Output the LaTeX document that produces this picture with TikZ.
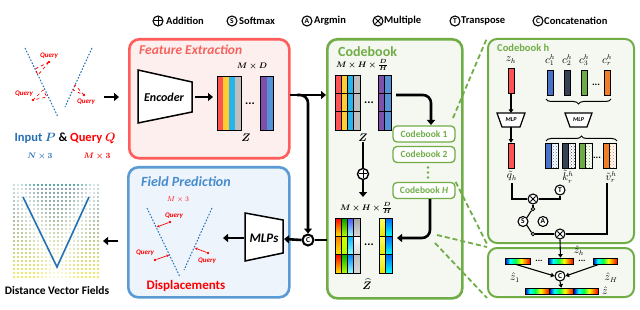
\documentclass[tikz,border=0pt]{standalone}
\usepackage{fontspec}
\setmainfont{Carlito}
\usepackage{amsmath,bm}
\usetikzlibrary{arrows.meta,patterns,calc,decorations.pathreplacing}
\definecolor{fered}{RGB}{255,92,92}
\definecolor{fefill}{RGB}{253,239,237}
\definecolor{fetitle}{RGB}{246,98,94}
\definecolor{cbgreen}{RGB}{112,173,71}
\definecolor{cbfill}{RGB}{245,248,241}
\definecolor{fpblue}{RGB}{91,155,213}
\definecolor{fpfill}{RGB}{238,244,251}
\definecolor{fptitle}{RGB}{70,140,205}
\definecolor{inblue}{RGB}{36,112,182}
\definecolor{qred}{RGB}{255,0,0}
\definecolor{zred}{RGB}{255,82,82}
\definecolor{zyel}{RGB}{255,205,50}
\definecolor{zcyan}{RGB}{40,180,235}
\definecolor{zgray}{RGB}{190,190,190}
\definecolor{zpurp}{RGB}{126,80,170}
\definecolor{zblue}{RGB}{85,145,215}
\definecolor{cdark}{RGB}{55,65,85}
\definecolor{cgreen}{RGB}{110,170,70}
\definecolor{corange}{RGB}{240,125,40}
\definecolor{cblue}{RGB}{70,115,200}
\pgfdeclarehorizontalshading{rainbow}{100bp}{color(0bp)=(blue!70!black); color(25bp)=(blue!70!black); color(35bp)=(cyan); color(46bp)=(green!70!cyan); color(57bp)=(yellow); color(66bp)=(orange); color(75bp)=(red); color(100bp)=(red)}
\tikzset{
  bigarr/.style={line width=2.6pt, -{Triangle[length=5pt,width=8pt]}},
  bigline/.style={line width=2.6pt},
  thinarr/.style={line width=1.1pt, -{Triangle[length=3.5pt,width=4.5pt]}},
  thinline/.style={line width=1.1pt},
  op/.style={circle, draw, line width=1.1pt, fill=white, inner sep=0pt, minimum size=10pt, font=\bfseries\fontsize{7.5}{7.5}\selectfont},
  opplus/.style={op, path picture={\draw[line width=1pt] ([yshift=3.6pt]path picture bounding box.center) -- ([yshift=-3.6pt]path picture bounding box.center) ([xshift=3.6pt]path picture bounding box.center) -- ([xshift=-3.6pt]path picture bounding box.center);}},
  optimes/.style={op, path picture={\draw[line width=1pt] ([shift={(2.6pt,2.6pt)}]path picture bounding box.center) -- ([shift={(-2.6pt,-2.6pt)}]path picture bounding box.center) ([shift={(-2.6pt,2.6pt)}]path picture bounding box.center) -- ([shift={(2.6pt,-2.6pt)}]path picture bounding box.center);}},
  bigop/.style={op, line width=2pt, minimum size=11pt},
  legtxt/.style={anchor=west, inner sep=0pt, font=\bfseries\fontsize{10.5}{11}\selectfont},
  cbbox/.style={draw=cbgreen, line width=1.3pt, rounded corners=4pt, fill=white, text=cbgreen, font=\bfseries\fontsize{9.5}{10}\selectfont, minimum width=62pt, minimum height=16pt, inner sep=0pt},
  qtxt/.style={text=qred, font=\bfseries\itshape\fontsize{7}{7}\selectfont, inner sep=0pt},
  qdot/.style={circle, fill=qred, inner sep=0pt, minimum size=2.6pt},
  cloud/.style={inblue, line width=1pt, dash pattern=on 1.6pt off 1.6pt},
  mathlbl/.style={inner sep=0pt, font=\fontsize{8}{8}\selectfont},
  vbar/.style={draw, line width=0.6pt, inner sep=0pt, minimum width=6pt, minimum height=25pt},
  hbar/.style={draw, line width=0.6pt, inner sep=0pt, shading=rainbow, minimum height=6pt},
  dashz/.style={cbgreen, line width=1.8pt, dash pattern=on 5pt off 3pt},
  lbl/.style={inner sep=0pt, font=\fontsize{10.5}{10.5}\selectfont}
}
\begin{document}
\begin{tikzpicture}[x=1pt,y=-1pt]
\fill[white] (0,0) rectangle (640,310);
\useasboundingbox (0,0) rectangle (640,310);

% ---------------- legend
\node[opplus] (l1) at (158,21) {};
\node[legtxt] (l1t) at (166,21) {Addition};
\node[op] (l2) at (232,21) {S};
\node[legtxt] (l2t) at (239,21) {Softmax};
\node[op] (l3) at (307,21) {A};
\node[legtxt] (l3t) at (314,21) {Argmin};
\node[optimes] (l4) at (378,21) {};
\node[legtxt] (l4t) at (384,21) {Multiple};
\node[op] (l5) at (455,21) {T};
\node[legtxt] (l5t) at (461,21) {Transpose};
\node[op] (l6) at (538,21) {C};
\node[legtxt] (l6t) at (544,21) {Concatenation};

% ---------------- input cloud
\draw[cloud] (25,48) -- (58,117);
\draw[cloud] (92,48) -- (65,107);
\node[qdot] (q1) at (49,62) {};
\node[qtxt, anchor=south west] (q1t) at (40,59) {Query};
\draw[qred, dashed, line width=0.7pt] (q1.center) -- (35,69) -- (38,75) -- cycle;
\node[qdot] (q2) at (33,100) {};
\node[qtxt, anchor=south] (q2t) at (24,97) {Query};
\draw[qred, dashed, line width=0.7pt] (q2.center) -- (43,90) -- (47,97) -- cycle;
\node[qdot] (q3) at (84,95) {};
\node[qtxt, anchor=north] (q3t) at (86,99) {Query};
\draw[qred, dashed, line width=0.7pt] (q3.center) -- (75,85) -- (73,90) -- cycle;
\node[inner sep=0pt, font=\bfseries\fontsize{12.5}{13}\selectfont] (inlab) at (65,138) {\textcolor{inblue}{Input $\bm{P}$} \& \textcolor{qred}{Query $\bm{Q}$}};
\node[mathlbl, text=inblue] (nlab) at (40,156) {$\bm{N\times 3}$};
\node[mathlbl, text=qred] (mlab) at (97,156) {$\bm{M\times 3}$};

% ---------------- distance vector fields
\foreach \i in {0,...,21}{\foreach \j in {0,...,23}{
  \pgfmathsetmacro\px{14+\i*4}
  \pgfmathsetmacro\py{185+\j*4}
  \pgfmathsetmacro\dA{abs((\px-23)*70-(\py-197)*34)/77.8}
  \pgfmathsetmacro\dB{abs((\px-89)*70+(\py-197)*32)/77}
  \pgfmathsetmacro\dd{min(\dA,\dB)}
  \pgfmathsetmacro\op{min(\dd/18,1)*0.75+0.2}
  \pgfmathsetmacro\mx{(\py-185)/92*100}
  \fill[yellow!\mx!teal!85!gray, opacity=\op] (\px,\py) circle (1.1);
}}
\draw[inblue, line width=1.6pt] (23,197) -- (57,267) -- (89,197);
\node[inner sep=0pt, font=\bfseries\fontsize{11.5}{12}\selectfont] (dvf) at (57,291) {Distance Vector Fields};

% ---------------- feature extraction
\node[draw=fered, fill=fefill, line width=2.6pt, rounded corners=10pt, minimum width=160pt, minimum height=119pt, anchor=north west, inner sep=0pt] (fe) at (128,38) {};
\node[anchor=west, inner sep=0pt, text=fetitle, font=\bfseries\itshape\fontsize{13.5}{13.5}\selectfont] (fet) at (139,50) {Feature Extraction};
\draw[fill=white, line width=1.5pt] (138,70) -- (192,82) -- (192,112) -- (138,123) -- cycle;
\node[inner sep=0pt, font=\bfseries\itshape\fontsize{12}{12}\selectfont] (enc) at (164,97) {Encoder};
\coordinate (encR) at (195,97);
\coordinate (zL) at (213,97);
\draw[bigarr] (encR) -- (zL);
\foreach \c/\col in {0/zred,1/zyel,2/zcyan,3/zgray} \fill[\col] (217+\c*6,76) rectangle ++(6,54);
\draw[line width=0.7pt] (217,76) rectangle (241,130);
\fill[zpurp] (260,76) rectangle (266.5,130);
\fill[zblue] (266.5,76) rectangle (273,130);
\draw[line width=0.7pt] (260,76) rectangle (273,130);
\node[inner sep=0pt, font=\bfseries\fontsize{12}{12}\selectfont] (fdots) at (250,104) {...};
\node[mathlbl] (fmd) at (252,66) {$\bm{M\times D}$};
\node[inner sep=0pt, font=\fontsize{11}{11}\selectfont] (fz) at (246,138) {$\bm{Z}$};

% ---------------- field prediction
\node[draw=fpblue, fill=fpfill, line width=2.6pt, rounded corners=10pt, minimum width=161pt, minimum height=130pt, anchor=north west, inner sep=0pt] (fp) at (127,166) {};
\node[anchor=west, inner sep=0pt, text=fptitle, font=\bfseries\itshape\fontsize{14}{14}\selectfont] (fpt) at (141,182) {Field Prediction};
\node[mathlbl, text=qred, font=\fontsize{7.5}{8}\selectfont] (fpm) at (178,200) {$M\times 3$};
\draw[cloud] (147,208) -- (180,277);
\draw[cloud] (212,208) -- (184,270);
\node[qdot] (p1) at (170,222) {};
\coordinate (p1e) at (157,227);
\draw[qred, line width=0.7pt, -{Stealth[length=2.5pt,width=2.5pt]}] (p1) -- (p1e);
\node[qtxt, anchor=south] (p1t) at (174,219) {Query};
\node[qdot] (p2) at (155,260) {};
\coordinate (p2e) at (169,255);
\draw[qred, line width=0.7pt, -{Stealth[length=2.5pt,width=2.5pt]}] (p2) -- (p2e);
\node[qtxt, anchor=south] (p2t) at (145,256) {Query};
\node[qdot] (p3) at (208,253) {};
\coordinate (p3e) at (195,248);
\draw[qred, line width=0.7pt, -{Stealth[length=2.5pt,width=2.5pt]}] (p3) -- (p3e);
\node[qtxt, anchor=north] (p3t) at (207,258) {Query};
\node[inner sep=0pt, text=qred, font=\bfseries\fontsize{13}{13}\selectfont] (disp) at (186,286) {Displacements};
\draw[fill=white, line width=1.5pt] (245,213) -- (283,220) -- (283,253) -- (245,261) -- cycle;
\node[inner sep=0pt, font=\bfseries\itshape\fontsize{13}{13}\selectfont] (mlps) at (264,238) {MLPs};
\coordinate (mlpsR) at (284,239);
\coordinate (mlpsL) at (244,238);
\coordinate (fpout) at (223,238);
\draw[bigarr] (mlpsL) -- (fpout);

% ---------------- codebook
\node[draw=cbgreen, fill=cbfill, line width=2.6pt, rounded corners=10pt, minimum width=135pt, minimum height=259pt, anchor=north west, inner sep=0pt] (cb) at (326,38) {};
\node[anchor=west, inner sep=0pt, text=cbgreen, font=\bfseries\fontsize{14}{14}\selectfont] (cbt) at (338,52) {Codebook};
\node[mathlbl] (cbm1) at (362,65) {$\bm{M\times H\times \frac{D}{H}}$};
\foreach \c/\col in {0/zred,1/zyel,2/zcyan,3/zgray} \fill[\col] (335+\c*6.25,75) rectangle ++(6.25,55);
\fill[zpurp] (378,75) rectangle (384.5,130);
\fill[zblue] (384.5,75) rectangle (391,130);
\foreach \r in {0,1,2}{
  \draw[line width=0.6pt] (335,75+\r*18.33) rectangle ++(25,18.33);
  \draw[line width=0.6pt] (378,75+\r*18.33) rectangle ++(13,18.33);
}
\foreach \c in {1,2,3} \draw[line width=0.6pt] (335+\c*6.25,75) -- ++(0,55);
\draw[line width=0.6pt] (384.5,75) -- ++(0,55);
\node[inner sep=0pt, font=\bfseries\fontsize{12}{12}\selectfont] (cdots1) at (369,103) {...};
\node[inner sep=0pt, font=\fontsize{11}{11}\selectfont] (cz) at (363,138) {$\bm{Z}$};
\node[opplus, minimum size=11pt, line width=1.4pt] (plus) at (363,174) {};
\draw[bigline] (cz.south) -- (plus.north);
\coordinate (zhT) at (363,197);
\draw[bigarr] (plus.south) -- (zhT);

\node[cbbox] (cb1) at (424,134) {Codebook 1};
\node[cbbox] (cb2) at (424,154.5) {Codebook 2};
\node[cbbox] (cbH) at (424,190.5) {Codebook \textit{H}};
\foreach \k in {0,1,2} \fill[cbgreen] (428,167.5+\k*5) circle (1.3);
\coordinate (zR) at (396,95);
\coordinate (cb1in) at (431,125);
\draw[bigarr, rounded corners=8pt] (zR) -| (cb1in);
\coordinate (cbHout) at (430,199);
\coordinate (zhR) at (397,238);
\draw[bigarr, rounded corners=8pt] (cbHout) |- (zhR);

\node[mathlbl] (cbm2) at (366,208) {$\bm{M\times H\times \frac{D}{H}}$};
\foreach \r/\ta/\tb/\tc/\td in {0/red/green!60!black/blue!70/gray!70, 1/orange/yellow!80!green/cyan!70!blue/white, 2/red/green!70!black/blue!50!cyan/gray!50}{
  \shade[top color=\ta, bottom color=yellow!80!orange] (335,218+\r*18.33) rectangle ++(6.25,18.33);
  \shade[top color=\tb, bottom color=yellow!70!green] (341.25,218+\r*18.33) rectangle ++(6.25,18.33);
  \shade[top color=\tc, bottom color=cyan!40!white] (347.5,218+\r*18.33) rectangle ++(6.25,18.33);
  \shade[top color=\td, bottom color=gray!30] (353.75,218+\r*18.33) rectangle ++(6.25,18.33);
  \shade[top color=yellow!60!white, bottom color=yellow!90!black] (379,218+\r*18.33) rectangle ++(6.5,18.33);
  \shade[top color=blue!60!cyan, bottom color=cyan] (385.5,218+\r*18.33) rectangle ++(6.5,18.33);
  \draw[line width=0.6pt] (335,218+\r*18.33) rectangle ++(25,18.33);
  \draw[line width=0.6pt] (379,218+\r*18.33) rectangle ++(13,18.33);
}
\foreach \c in {1,2,3} \draw[line width=0.6pt] (335+\c*6.25,218) -- ++(0,55);
\draw[line width=0.6pt] (385.5,218) -- ++(0,55);
\node[inner sep=0pt, font=\bfseries\fontsize{12}{12}\selectfont] (cdots2) at (369,245) {...};
\node[inner sep=0pt, font=\fontsize{11}{11}\selectfont] (czh) at (367,284) {$\bm{\widehat{Z}}$};

% ---------------- main connectors
\coordinate (inR) at (104,97);
\coordinate (feL) at (119,97);
\draw[bigarr] (inR) -- (feL);
\node[bigop] (cc1) at (308,240) {C};
\coordinate (feR) at (290,95);
\coordinate (cbL) at (326,95);
\draw[bigarr] (feR) -- (cbL);
\coordinate (br) at (297,95);
\draw[bigarr, rounded corners=8pt] (br) -| (cc1.north);
\coordinate (cbL2) at (327,240);
\draw[bigline] (cbL2) -- (cc1.east);
\draw[bigarr] (cc1.west) -- (mlpsR);
\coordinate (fpL) at (118,241);
\coordinate (dvfR) at (103,241);
\draw[bigarr] (fpL) -- (dvfR);

% ---------------- codebook h
\node[draw=cbgreen, fill=cbfill, line width=2pt, rounded corners=9pt, minimum width=146pt, minimum height=204pt, anchor=north west, inner sep=0pt] (ch) at (487,38) {};
\node[draw=cbgreen, fill=cbfill, line width=2pt, rounded corners=9pt, minimum width=146pt, minimum height=49pt, anchor=north west, inner sep=0pt] (chb) at (487,247) {};
\node[anchor=west, inner sep=0pt, text=cbgreen, font=\bfseries\fontsize{10.5}{11}\selectfont] (cht) at (497,48) {Codebook h};

\node[lbl] (zhl) at (511,60) {$z_h$};
\node[vbar, fill=zred] (zhb) at (511,81) {};
\draw[fill=white, line width=1.2pt] (497,113) -- (525,113) -- (520,127) -- (502,127) -- cycle;
\node[inner sep=0pt, font=\bfseries\itshape\fontsize{6}{6}\selectfont] (mlp1) at (511,120) {MLP};
\coordinate (mlp1T) at (511,113);
\coordinate (mlp1B) at (511,127);
\draw[thinarr] (zhb.south) -- (mlp1T);
\node[vbar, fill=zred] (qhb) at (511,155.5) {};
\draw[thinarr] (mlp1B) -- (qhb.north);
\node[lbl] (qhl) at (512,176) {$\tilde{q}_h$};

\node[lbl] (c1l) at (550,60) {$c_1^h$};
\node[lbl] (c2l) at (567,60) {$c_2^h$};
\node[lbl] (c3l) at (584,60) {$c_3^h$};
\node[lbl] (crl) at (607,60) {$c_r^h$};
\node[vbar, fill=cblue] (c1b) at (550,82.5) {};
\node[vbar, fill=cdark] (c2b) at (567,82.5) {};
\node[vbar, fill=cgreen] (c3b) at (584,82.5) {};
\node[vbar, fill=corange] (crb) at (607,82.5) {};
\node[inner sep=0pt, font=\bfseries\fontsize{10}{10}\selectfont] (cdots3) at (596,85) {...};
\draw[line width=1pt, decorate, decoration={brace, amplitude=5pt}] (611,99) -- (546,99);
\draw[fill=white, line width=1.2pt] (565,113) -- (592,113) -- (587,127) -- (570,127) -- cycle;
\node[inner sep=0pt, font=\bfseries\itshape\fontsize{6}{6}\selectfont] (mlp2) at (578.5,120) {MLP};
\draw[line width=1pt, decorate, decoration={brace, amplitude=5pt}] (546,141) -- (617,141);
\foreach \x/\col in {545/cblue,562/cdark,579/cgreen,603/corange}{
  \fill[\col] (\x,143) rectangle ++(6.5,25);
  \fill[white] (\x+6.5,143) rectangle ++(6.5,25);
  \fill[pattern=crosshatch dots, pattern color=\col] (\x+6.5,143) rectangle ++(6.5,25);
  \draw[line width=0.6pt] (\x,143) rectangle ++(13,25);
  \draw[line width=0.6pt] (\x+6.5,143) -- ++(0,25);
}
\node[inner sep=0pt, font=\bfseries\fontsize{10}{10}\selectfont] (cdots4) at (597,158) {...};
\node[lbl] (kl) at (568,177) {$\tilde{k}_r^h$};
\node[lbl] (vl) at (611,177) {$\tilde{v}_r^h$};

\node[optimes] (xa) at (533,199) {};
\node[op] (tt) at (560,190) {T};
\node[circle, draw, line width=0.8pt, fill=white, inner sep=0pt, minimum size=3.5pt] (s1) at (533,209) {};
\node[circle, draw, line width=0.8pt, fill=white, inner sep=0pt, minimum size=3.5pt] (s2) at (533,234) {};
\node[op] (sm) at (523,221.5) {S};
\node[op] (am) at (543,221.5) {A};
\node[optimes] (xb) at (560,234) {};
\coordinate (qdown) at (512,183);
\coordinate (vdown) at (607,183);
\draw[thinline] (qdown) |- (xa.west);
\draw[thinline] (tt.south) |- (xa.east);
\draw[thinline] (xa.south) -- (s1.north);
\draw[thinline] (s1.south west) -- (sm.north east);
\draw[thinline] (sm.south east) -- (s2.north west);
\draw[thinline] (s2.east) -- (xb.west);
\draw[thinline] (vdown) |- (xb.east);

\node[hbar, minimum width=25pt] (z1b) at (517.5,261) {};
\node[hbar, minimum width=25pt] (zhhb) at (560.5,261) {};
\node[hbar, minimum width=24pt] (zHb) at (605,261) {};
\node[inner sep=0pt, font=\bfseries\fontsize{9}{9}\selectfont] (bd1) at (539,261) {...};
\node[inner sep=0pt, font=\bfseries\fontsize{9}{9}\selectfont] (bd2) at (582,261) {...};
\draw[thinarr] (xb.south) -- (zhhb.north);
\node[lbl] (zhl2) at (579,251) {$\hat{z}_h$};
\node[lbl] (z1l) at (515,278) {$\hat{z}_1$};
\node[lbl] (zHl) at (611,278) {$\hat{z}_H$};
\node[op] (cc2) at (560,276) {C};
\draw[thinarr] ([xshift=-2pt]z1b.south) -- (cc2.west);
\draw[thinarr] ([xshift=-6pt]zHb.south) -- (cc2.east);
\node[hbar, minimum width=24.3pt] (f1) at (537.15,291) {};
\node[hbar, minimum width=24.3pt] (f2) at (561.45,291) {};
\node[hbar, minimum width=24.3pt] (f3) at (585.75,291) {};
\draw[thinarr] (cc2.south) -- (f2.north);
\node[lbl] (zfl) at (605,291) {$\hat{z}$};

% ---------------- zoom dashes
\coordinate (d1) at (453,118);
\coordinate (d3) at (437,235);
\coordinate (d4) at (435,243);
\draw[dashz] (d1) -- (ch.north west);
\draw[dashz] (cbH.north east) -- (ch.south west);
\draw[dashz] (d3) -- (chb.north west);
\draw[dashz] (d4) -- (chb.south west);
\end{tikzpicture}
\end{document}
